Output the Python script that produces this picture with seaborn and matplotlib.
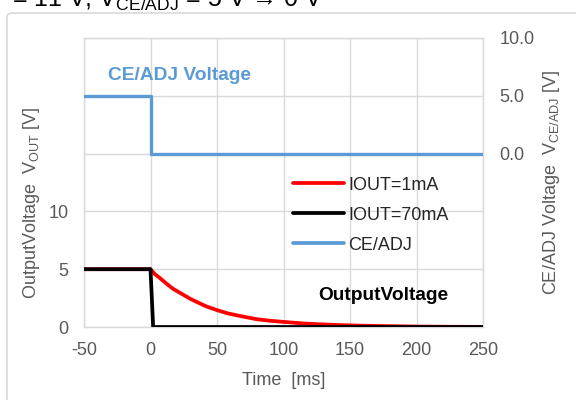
import pandas as pd
import matplotlib.pyplot as plt
import seaborn as sb
from matplotlib.lines import Line2D
from matplotlib.patches import FancyBboxPatch

# values
time_1ma = [-50, 0, 3, 7, 12, 17, 23, 30, 36, 42, 50, 58, 67, 80, 90, 100,
            117, 130, 142, 160, 175, 200, 225, 250]
vout_1ma = [5.0, 5.0, 4.6, 4.24, 3.75, 3.30, 2.9, 2.43, 2.1, 1.78, 1.46, 1.18,
            0.96, 0.67, 0.54, 0.44, 0.29, 0.22, 0.17, 0.11, 0.08, 0.04, 0.02, 0.01]
time_70ma = [-50, 0, 2, 250]
vout_70ma = [5.0, 5.0, 0.0, 0.0]
time_ce = [-50, 0, 0, 250]
v_ce = [5.0, 5.0, 0.0, 0.0]

x_ticks = [-50, 0, 50, 100, 150, 200, 250]
left_ticks = [0, 5, 10, 15, 20, 25]
left_labels = ['0', '5', '10', '', '', '']
right_ticks = [0, 5, 10]
right_labels = ['0.0', '5.0', '10.0']
series_names = ['IOUT=1mA', 'IOUT=70mA', 'CE/ADJ']
series_colors = ['#FF0000', '#000000', '#5B9BD5']

sb.set_style('white')
plt.rcParams['font.family'] = ['Liberation Sans', 'DejaVu Sans']
plt.rcParams['mathtext.fontset'] = 'custom'
plt.rcParams['mathtext.rm'] = 'Liberation Sans'

grey = '#595959'
grid_c = '#D9D9D9'

fig = plt.figure(figsize=(5.76, 4), dpi=100)
ax = fig.add_axes([84/576, 1 - 327/400, 399/576, 289/400])

#outer chart frame (cut by the picture edge)
frame = FancyBboxPatch((7/576, -0.05), 1.1, 1 - 13/400 + 0.05,
                       boxstyle='round,pad=0,rounding_size=0.01',
                       transform=fig.transFigure, fill=False,
                       edgecolor=grid_c, linewidth=1.2, zorder=0)
fig.patches.append(frame)

#heading, cut by the top edge like in the source picture
fig.text(323/576, 1 - 7/400, '= 11 V, $\\mathregular{V_{CE/ADJ}}$ = 5 V \u2192 0 V',
         ha='right', va='baseline', fontsize=18, color='#000000')

df1 = pd.DataFrame({'t': time_1ma, 'v': vout_1ma})
df70 = pd.DataFrame({'t': time_70ma, 'v': vout_70ma})
dfce = pd.DataFrame({'t': time_ce, 'v': v_ce})

sb.lineplot(data=df1, x='t', y='v', ax=ax, color=series_colors[0], lw=2.7,
            estimator=None, sort=False, zorder=3, solid_joinstyle='round')
sb.lineplot(data=df70, x='t', y='v', ax=ax, color=series_colors[1], lw=2.7,
            estimator=None, sort=False, zorder=4)

ax.set_xlim(-50, 250)
ax.set_ylim(0, 25)
ax.set_xticks(x_ticks)
ax.set_xticklabels([str(v) for v in x_ticks])
ax.set_yticks(left_ticks)
ax.set_yticklabels(left_labels)
ax.grid(True, color=grid_c, lw=1)
ax.tick_params(length=0, labelsize=13, labelcolor=grey, pad=11)
for s in ax.spines.values():
    s.set_color(grid_c)
    s.set_linewidth(1)
ax.set_xlabel('Time  [ms]', fontsize=13, color=grey, labelpad=9)
ax.set_ylabel('OutputVoltage  $\\mathregular{V_{OUT}}$ [V]', fontsize=13, color=grey)
ax.yaxis.set_label_coords(-0.105, 0.43)

ax2 = ax.twinx()
sb.lineplot(data=dfce, x='t', y='v', ax=ax2, color=series_colors[2], lw=2.4,
            estimator=None, sort=False)
ax2.set_ylim(-15, 10)
ax2.set_yticks(right_ticks)
ax2.set_yticklabels(right_labels)
ax2.grid(False)
ax2.tick_params(length=0, labelsize=13, labelcolor=grey, pad=12)
for s in ax2.spines.values():
    s.set_visible(False)
ax2.set_ylabel('CE/ADJ Voltage  $\\mathregular{V_{CE/ADJ}}$ [V]', fontsize=13, color=grey)
ax2.yaxis.set_label_coords(1.146, 0.5)

ax2.text(24/399, (327-75)/289, 'CE/ADJ Voltage', transform=ax.transAxes,
         fontsize=13.8, fontweight='bold', color=series_colors[2], va='center')
ax2.text(234/399, (327-296)/289, 'OutputVoltage', transform=ax.transAxes,
         fontsize=13.8, fontweight='bold', color='black', va='center')

handles = [Line2D([], [], color=c, lw=2.7) for c in series_colors]
ax2.legend(handles, series_names, loc='center left',
           bbox_to_anchor=((293-84)/399, (327-215)/289), frameon=False,
           fontsize=13, handlelength=2.8, handletextpad=0.25,
           labelspacing=0.72, borderpad=0, borderaxespad=0)

plt.savefig('out.png', dpi=100)
